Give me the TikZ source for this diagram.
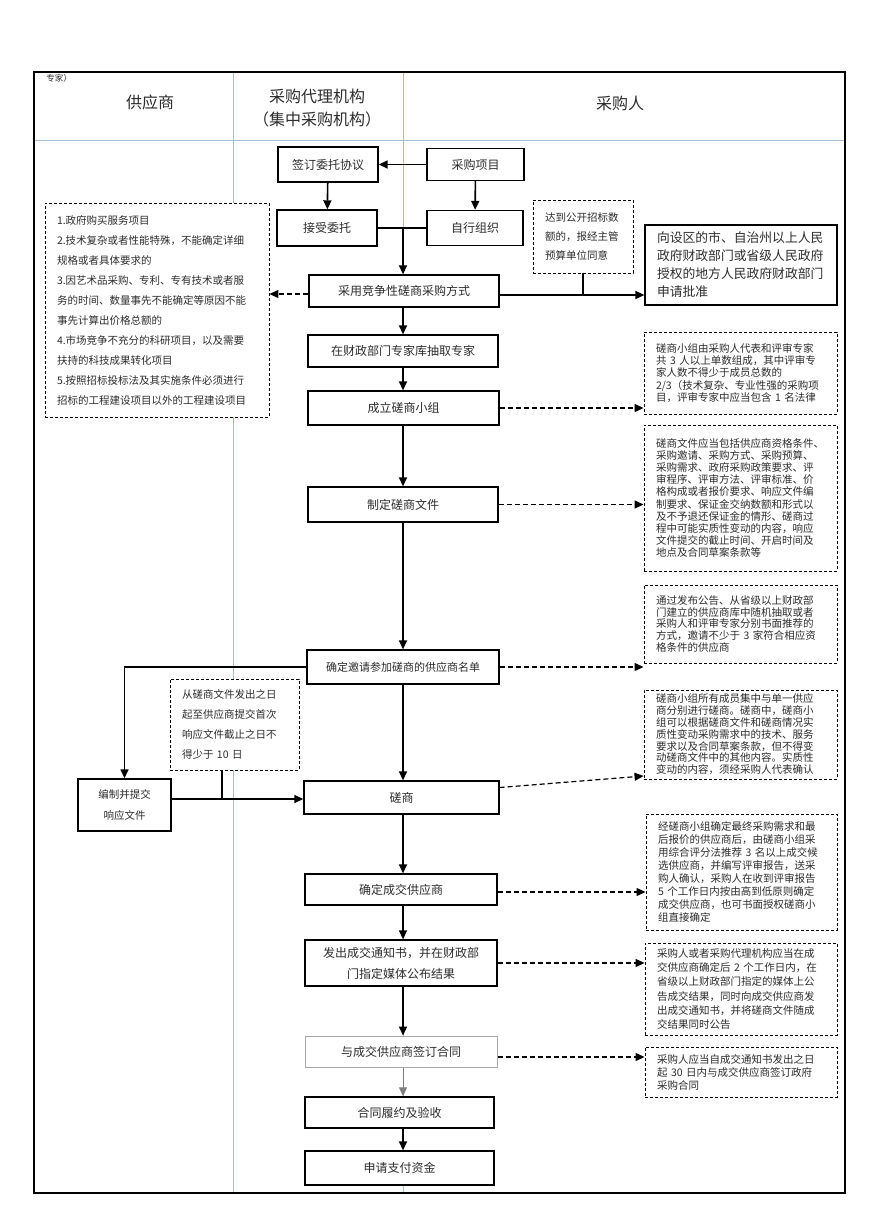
\documentclass[tikz,border=0pt]{standalone}
\usepackage{fontspec}
\newfontfamily\cjk{Noto Sans CJK SC}
\usetikzlibrary{arrows.meta}
\definecolor{laneblue}{RGB}{160,190,215}
\definecolor{ink}{RGB}{45,45,45}

\begin{document}
\begin{tikzpicture}[x=1pt,y=-1pt,
	box/.style={draw,line width=1.4pt,fill=white,inner sep=0pt,text=ink,font=\cjk\fontsize{12}{17}\selectfont,align=center},
	note/.style={draw,dash pattern=on 3pt off 2pt,line width=0.9pt,fill=white,text=ink,align=left,inner xsep=12pt,inner ysep=0pt,font=\cjk\fontsize{10.5}{#1}\selectfont},
	note/.default=12.2pt,
	flow/.style={line width=1.6pt,-{Triangle[length=9pt,width=8pt]}},
	dflow/.style={line width=1.2pt,dash pattern=on 5pt off 3pt,-{Triangle[length=9pt,width=8pt]}},
	lane/.style={laneblue,line width=1pt},
	head/.style={text=ink,font=\cjk\fontsize{16}{23}\selectfont,align=center}]
		\useasboundingbox (0,0) rectangle (880,1231);
		\fill[white] (0,0) rectangle (880,1231);
		
		% lanes
		\draw[lane] (34,140) -- (845,140);
		\draw[lane] (233,72) -- (233,1193);
		\draw[lane] (403,72) -- (403,1193);
		\draw[line width=1.5pt] (34,72) rectangle (845,1193);
		\coordinate (spine) at (403,0);
		
		\node[text=ink,font=\cjk\fontsize{8.5}{10}\selectfont] (tag) at (59,78) {专家）};
		\node[head] (hsup) at (150,102) {供应商};
		\node[head] (hagent) at (317,108.5) {采购代理机构\\（集中采购机构）};
		\node[head] (hbuyer) at (620,103) {采购人};
		
		% main column
		\node[box,minimum width=100pt,minimum height=35pt] (sign) at (328,164.5) {签订委托协议};
		\node[box,minimum width=97pt,minimum height=32pt] (proj) at (475.5,164.5) {采购项目};
		\node[box,minimum width=100pt,minimum height=36pt] (accept) at (327,228) {接受委托};
		\node[box,minimum width=96pt,minimum height=35pt] (self) at (475,228) {自行组织};
		\node[box,minimum width=190pt,minimum height=32pt] (method) at (404,291) {采用竞争性磋商采购方式};
		\node[box,minimum width=190pt,minimum height=32pt] (pick) at (403,351) {在财政部门专家库抽取专家};
		\node[box,minimum width=191pt,minimum height=34pt] (group) at (403.5,408) {成立磋商小组};
		\node[box,minimum width=190pt,minimum height=35pt] (doc) at (403,504.5) {制定磋商文件};
		\node[box,minimum width=192pt,minimum height=34pt,font=\cjk\fontsize{11}{14}\selectfont] (list) at (403,667) {确定邀请参加磋商的供应商名单};
		\node[box,minimum width=93pt,minimum height=52pt,font=\cjk\fontsize{10.5}{21}\selectfont] (submit) at (124.5,805) {编制并提交\\响应文件};
		\node[box,minimum width=195pt,minimum height=33pt] (talk) at (401.5,797.5) {磋商};
		\node[box,minimum width=192pt,minimum height=31pt] (deal) at (401,889.5) {确定成交供应商};
		\node[box,minimum width=192pt,minimum height=46pt,font=\cjk\fontsize{12}{21}\selectfont] (notice) at (401,963) {发出成交通知书，并在财政部\\门指定媒体公布结果};
		\node[box,draw=gray!70,line width=1pt,minimum width=192pt,minimum height=31pt] (sign2) at (401,1051.5) {与成交供应商签订合同};
		\node[box,minimum width=189pt,minimum height=31pt] (perform) at (399.5,1112.5) {合同履约及验收};
		\node[box,minimum width=189pt,minimum height=34pt] (pay) at (399.5,1168) {申请支付资金};
		\node[box,line width=1.2pt,align=left,inner xsep=12pt,text width=168pt,minimum height=80pt,font=\cjk\fontsize{12.8}{18}\selectfont] (approve) at (741,265) {向设区的市、自治州以上人民\\政府财政部门或省级人民政府\\授权的地方人民政府财政部门\\申请批准};
		
		% notes
		\node[note=20pt,text width=200pt,minimum height=214pt] (cases) at (157,310) {1.政府购买服务项目\\2.技术复杂或者性能特殊，不能确定详细\\规格或者具体要求的\\3.因艺术品采购、专利、专有技术或者服\\务的时间、数量事先不能确定等原因不能\\事先计算出价格总额的\\4.市场竞争不充分的科研项目，以及需要\\扶持的科技成果转化项目\\5.按照招标投标法及其实施条件必须进行\\招标的工程建设项目以外的工程建设项目};
		\node[note=19pt,text width=76pt,minimum height=73pt] (quota) at (583,236.5) {达到公开招标数\\额的，报经主管\\预算单位同意};
		\node[note,text width=169pt,minimum height=82pt] (n1) at (740.5,373) {磋商小组由采购人代表和评审专家\\共 3 人以上单数组成，其中评审专\\家人数不得少于成员总数的\\2/3（技术复杂、专业性强的采购项\\目，评审专家中应当包含 1 名法律};
		\node[note,text width=169pt,minimum height=146pt] (n2) at (740.5,498) {磋商文件应当包括供应商资格条件、\\采购邀请、采购方式、采购预算、\\采购需求、政府采购政策要求、评\\审程序、评审方法、评审标准、价\\格构成或者报价要求、响应文件编\\制要求、保证金交纳数额和形式以\\及不予退还保证金的情形、磋商过\\程中可能实质性变动的内容，响应\\文件提交的截止时间、开启时间及\\地点及合同草案条款等};
		\node[note=11.8pt,text width=169pt,minimum height=78pt] (n3) at (740.5,624) {通过发布公告、从省级以上财政部\\门建立的供应商库中随机抽取或者\\采购人和评审专家分别书面推荐的\\方式，邀请不少于 3 家符合相应资\\格条件的供应商};
		\node[note=20pt,text width=105pt,minimum height=91pt] (n4) at (234.5,724.5) {从磋商文件发出之日\\起至供应商提交首次\\响应文件截止之日不\\得少于 10 日};
		\node[note=11.8pt,text width=169pt,minimum height=89pt] (n5) at (740.5,734.5) {磋商小组所有成员集中与单一供应\\商分别进行磋商。磋商中，磋商小\\组可以根据磋商文件和磋商情况实\\质性变动采购需求中的技术、服务\\要求以及合同草案条款，但不得变\\动磋商文件中的其他内容。实质性\\变动的内容，须经采购人代表确认};
		\node[note=12.9pt,text width=167pt,minimum height=116pt] (n6) at (741.5,872) {经磋商小组确定最终采购需求和最\\后报价的供应商后，由磋商小组采\\用综合评分法推荐 3 名以上成交候\\选供应商，并编写评审报告，送采\\购人确认，采购人在收到评审报告\\5 个工作日内按由高到低原则确定\\成交供应商，也可书面授权磋商小\\组直接确定};
		\node[note=14.2pt,text width=168pt,minimum height=92pt] (n7) at (741,989) {采购人或者采购代理机构应当在成\\交供应商确定后 2 个工作日内，在\\省级以上财政部门指定的媒体上公\\告成交结果，同时向成交供应商发\\出成交通知书，并将磋商文件随成\\交结果同时公告};
		\node[note=13pt,text width=168pt,minimum height=50pt] (n8) at (741,1072) {采购人应当自成交通知书发出之日\\起 30 日内与成交供应商签订政府\\采购合同};
		
		% solid connectors
		\draw[flow] (proj) -- (sign);
		\draw[flow] (sign) -- (accept);
		\draw[flow] (proj) -- (self);
		\draw[line width=1.6pt] (accept) -- (self);
		\draw[flow] (spine |- accept.east) -- (method.north -| spine);
		\foreach \a/\b in {method/pick,pick/group,group/doc,doc/list,list/talk,talk/deal,deal/notice,notice/sign2,perform/pay}
			\draw[flow] (\a.south -| spine) -- (\b.north -| spine);
		\draw[flow,gray,line width=1pt] (sign2.south -| spine) -- (perform.north -| spine);
		\draw[flow] (method.east |- 0,295) -- (approve.west |- 0,295);
		\draw[line width=1.2pt] (quota.south) -- (quota.south |- 0,295);
		\draw[flow] (list.west) -| (submit.north);
		\draw[flow] (submit.east |- 0,799) -- (talk.west |- 0,799);
		\draw[line width=1.2pt] (n4.south -| 222,0) -- (222,799);
		
		% dashed connectors
		\draw[dflow] (method.west |- 0,294) -- (cases.east |- 0,294);
		\draw[dflow] (group.east) -- (group.east -| n1.west);
		\draw[dflow] (doc.east) -- (doc.east -| n2.west);
		\draw[dflow] (list.east) -- (list.east -| n3.west);
		\draw[dflow] ([yshift=10pt]talk.east) -- (n5.west |- 0,776);
		\draw[dflow] (deal.east |- 0,892) -- (n6.west |- 0,892);
		\draw[dflow] (notice.east) -- (notice.east -| n7.west);
		\draw[dflow] (sign2.east |- 0,1057) -- (n8.west |- 0,1057);
\end{tikzpicture}
\end{document}
